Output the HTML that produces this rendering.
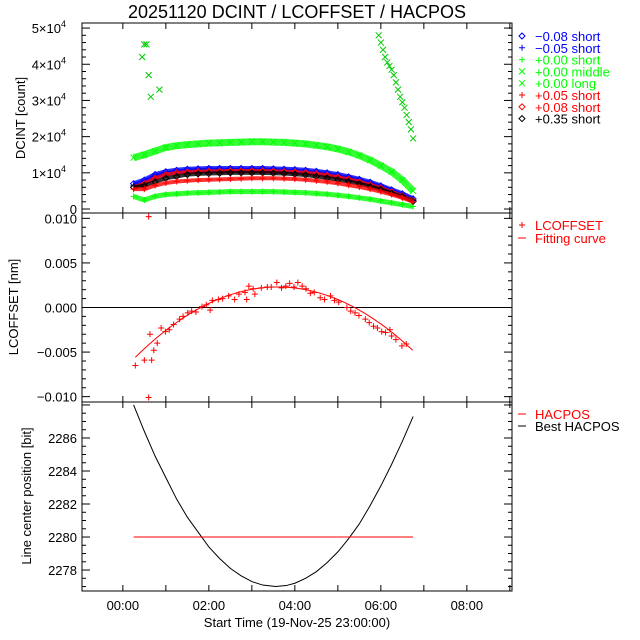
<!DOCTYPE html>
<html><head><meta charset="utf-8"><style>
body{margin:0;background:#fff}
svg{display:block;font-family:"Liberation Sans",sans-serif}
</style></head><body>
<svg id="c" width="640" height="640" viewBox="0 0 640 640"></svg>
<script>
// ---- data ----
const hourTicks=[0,2,4,6,8];
const hourTickLabels=["00:00","02:00","04:00","06:00","08:00"];
const bandTimes=[0.25,0.5,0.75,1.0,1.25,1.5,1.75,2.0,2.25,2.5,2.75,3.0,3.25,3.5,3.75,4.0,4.25,4.5,4.75,5.0,5.25,5.5,5.75,6.0,6.25,6.5,6.75];
const greenShort=[0.35,0.25,0.35,0.4,0.42,0.44,0.45,0.46,0.47,0.48,0.48,0.48,0.48,0.48,0.47,0.46,0.45,0.43,0.41,0.38,0.35,0.31,0.27,0.22,0.17,0.12,0.07];
const greenMiddle=[1.42,1.5,1.6,1.7,1.75,1.78,1.8,1.82,1.83,1.84,1.85,1.86,1.86,1.85,1.84,1.82,1.8,1.76,1.72,1.66,1.58,1.48,1.35,1.2,1.03,0.8,0.5];
const blueDiamond=[0.7,0.8,0.95,1.03,1.07,1.1,1.11,1.12,1.12,1.12,1.12,1.12,1.12,1.11,1.1,1.09,1.07,1.04,1.0,0.95,0.89,0.82,0.74,0.64,0.53,0.42,0.28];
const bluePlus=[0.65,0.75,0.9,0.98,1.02,1.05,1.06,1.07,1.07,1.07,1.07,1.07,1.07,1.06,1.05,1.04,1.02,0.99,0.95,0.9,0.85,0.78,0.7,0.6,0.5,0.38,0.25];
const redDiamond=[0.6,0.7,0.85,0.95,1.0,1.02,1.03,1.04,1.04,1.05,1.05,1.05,1.05,1.04,1.03,1.02,1.0,0.97,0.93,0.88,0.82,0.75,0.67,0.58,0.47,0.36,0.23];
const blackDiamond=[0.6,0.65,0.75,0.85,0.9,0.95,0.97,0.98,0.99,1.0,1.0,1.0,1.0,0.99,0.98,0.96,0.94,0.9,0.86,0.81,0.76,0.7,0.62,0.54,0.44,0.34,0.21];
const redPlus=[0.55,0.55,0.65,0.72,0.76,0.78,0.8,0.81,0.82,0.83,0.84,0.85,0.85,0.85,0.84,0.83,0.81,0.78,0.75,0.71,0.66,0.61,0.55,0.48,0.4,0.31,0.2];
const longTimes=[0.45,0.5,0.55,0.6,0.65,0.85,5.95,6.0,6.05,6.1,6.15,6.2,6.25,6.3,6.35,6.4,6.45,6.5,6.55,6.6,6.65,6.7,6.75];
const greenLong=[4.2,4.55,4.55,3.7,3.1,3.3,4.8,4.6,4.4,4.2,4.05,3.95,3.85,3.7,3.5,3.3,3.1,2.95,2.8,2.6,2.4,2.2,1.95];
const lcTimes=[0.29,0.5,0.63,0.67,0.72,0.6,0.6,0.8,0.89,0.99,1.08,1.18,1.32,1.4,1.51,1.6,1.7,1.84,1.94,2.03,2.08,2.22,2.32,2.46,2.6,2.7,2.84,2.88,2.93,3.03,3.07,3.22,3.36,3.45,3.58,3.69,3.79,3.88,3.98,4.07,4.17,4.26,4.36,4.45,4.59,4.69,4.83,4.92,5.02,5.21,5.3,5.4,5.49,5.64,5.73,5.83,5.92,6.02,6.11,6.21,6.25,6.35,6.49,6.59];
const lcValues=[-6.5,-5.9,-3.0,-5.9,-4.8,-10.1,10.2,-4.0,-2.3,-2.7,-2.5,-1.9,-1.3,-1.0,-0.6,-0.4,-0.5,0.1,0.3,-0.3,0.8,0.9,1.0,1.3,0.9,1.5,1.7,0.9,2.4,2.1,1.5,2.2,2.3,2.3,2.8,2.2,2.4,2.7,2.3,2.8,2.4,2.1,1.6,1.7,1.1,0.9,1.3,0.8,0.6,0.0,-0.4,-0.6,-0.9,-1.3,-1.7,-2.1,-2.3,-2.7,-2.8,-2.5,-3.2,-3.6,-4.3,-4.1];
const fitCoef=[2.3,3.6,0.72]; // peak (1e-3 nm), peak hour, curvature
const hacTimes=[0.25,0.5,0.75,1,1.25,1.5,1.75,2,2.25,2.5,2.75,3,3.25,3.55,3.8,4,4.25,4.5,4.75,5,5.25,5.5,5.75,6,6.25,6.5,6.75];
const bestHacpos=[2288.0,2286.4,2284.9,2283.6,2282.3,2281.2,2280.3,2279.4,2278.7,2278.1,2277.65,2277.3,2277.09,2277.0,2277.06,2277.2,2277.5,2277.9,2278.45,2279.1,2279.9,2280.8,2281.9,2283.1,2284.4,2285.8,2287.3];
const hacposLevel=2280;

const S=document.getElementById('c');const NS='http://www.w3.org/2000/svg';
function mk(t,a,p){const e=document.createElementNS(NS,t);for(const k in a)e.setAttribute(k,a[k]);(p||S).appendChild(e);return e;}
const L=82,R=512;
const xs=t=>L+(t+0.95)*(R-L)/10;
const P1={t:23,b:213,y0:-0.11,y1:5.14};
const P2={t:213,b:402,y0:-10.6,y1:10.6};
const P3={t:402,b:591,y0:2276.73,y1:2288.18};
const ys=(P,v)=>P.b-(v-P.y0)/(P.y1-P.y0)*(P.b-P.t);

[P1,P2,P3].forEach((P,i)=>{
 const r=mk('rect',{x:L,y:P.t,width:R-L,height:P.b-P.t,fill:'none',stroke:'#000','stroke-width':1});
 
 
 for(let h=0;h<=9;h++){const x=xs(h);
  mk('line',{x1:x,x2:x,y1:P.b,y2:P.b-6,stroke:'#000'});mk('line',{x1:x,x2:x,y1:P.t,y2:P.t+6,stroke:'#000'});}
});
function yticks(P,maj,minor){
 for(let v=Math.ceil(P.y0/minor)*minor;v<=P.y1+1e-9;v+=minor){const y=ys(P,v);
  const isMaj=Math.abs(v/maj-Math.round(v/maj))<1e-6;const len=isMaj?8:4;
  mk('line',{x1:L,x2:L+len,y1:y,y2:y,stroke:'#000'});mk('line',{x1:R,x2:R-len,y1:y,y2:y,stroke:'#000'});}
}
yticks(P1,1,0.2);yticks(P2,5,1);yticks(P3,2,0.5);
function txt(x,y,s,o){const e=mk('text',Object.assign({x:x,y:y,'font-size':13,fill:'#000'},o||{}));e.textContent=s;return e;}
[0,1,2,3,4,5].forEach(k=>{const y=ys(P1,k)+5;
 let e;
 if(k===0){e=txt(77,y,'0',{'text-anchor':'end'});}
 else{e=txt(61,y,k+'×10',{'text-anchor':'end'});txt(61,y-6,'4',{'font-size':9});}
 });
[10,5,0,-5,-10].forEach(k=>{const e=txt(77,ys(P2,k)+5,(k<0?'−':'')+(Math.abs(k)/1000).toFixed(3),{'text-anchor':'end'});
 });
[2278,2280,2282,2284,2286].forEach(k=>{const e=txt(77,ys(P3,k)+5,String(k),{'text-anchor':'end'});
 });
hourTicks.forEach((h,i)=>{const e=txt(xs(h),610,hourTickLabels[i],{'text-anchor':'middle'});
 });
let e;
e=txt(297,627,'Start Time (19-Nov-25 23:00:00)',{'text-anchor':'middle'});
e=txt(297,18,'20251120 DCINT / LCOFFSET / HACPOS',{'text-anchor':'middle','font-size':18});
e=txt(0,0,'DCINT [count]',{'text-anchor':'middle',transform:'translate(25,118) rotate(-90)'});
e=txt(0,0,'LCOFFSET [nm]',{'text-anchor':'middle',transform:'translate(18,307) rotate(-90)'});
e=txt(0,0,'Line center position [bit]',{'text-anchor':'middle',transform:'translate(31,496) rotate(-90)'});

function marker(g,type,x,y,c){
 if(type==='d')mk('path',{d:`M${x} ${y-3}L${x+3} ${y}L${x} ${y+3}L${x-3} ${y}Z`,fill:'none',stroke:c},g);
 else if(type==='p')mk('path',{d:`M${x-3} ${y}H${x+3}M${x} ${y-3}V${y+3}`,stroke:c},g);
 else mk('path',{d:`M${x-3} ${y-3}L${x+3} ${y+3}M${x-3} ${y+3}L${x+3} ${y-3}`,stroke:c},g);
}
function series(name,times,vals,P,type,c,band){
 const g=mk('g',{});
 
 
 if(band)mk('polyline',{points:times.map((t,i)=>xs(t)+','+ys(P,vals[i])).join(' '),fill:'none',stroke:c,'stroke-width':band,'stroke-opacity':0.8},g);
 times.forEach((t,i)=>marker(g,type,xs(t),ys(P,vals[i]),c));
}
series('series-green-short',bandTimes,greenShort,P1,'p','#00ff00',5);
series('series-green-middle',bandTimes,greenMiddle,P1,'x','#00ff00',7);
series('series-blue-diamond',bandTimes,blueDiamond,P1,'d','#0000ff',5);
series('series-blue-plus',bandTimes,bluePlus,P1,'p','#0000ff',5);
series('series-red-diamond',bandTimes,redDiamond,P1,'d','#ff0000',4);
series('series-black-diamond',bandTimes,blackDiamond,P1,'d','#000000',4);
series('series-red-plus',bandTimes,redPlus,P1,'p','#ff0000',4);
series('series-green-long',longTimes,greenLong,P1,'x','#00cc00',0);

e=mk('line',{x1:L,x2:R,y1:ys(P2,0),y2:ys(P2,0),stroke:'#000'});
series('lcoffset-points',lcTimes,lcValues,P2,'p','#ff0000',0);
const fitPts=[];for(let t=0.29;t<=6.751;t+=0.05){fitPts.push(xs(t)+','+ys(P2,fitCoef[0]-fitCoef[2]*(t-fitCoef[1])**2));}
e=mk('polyline',{points:fitPts.join(' '),fill:'none',stroke:'#ff0000'});

e=mk('polyline',{points:hacTimes.map((t,i)=>xs(t)+','+ys(P3,bestHacpos[i])).join(' '),fill:'none',stroke:'#000'});
e=mk('line',{x1:xs(hacTimes[0]),x2:xs(hacTimes[hacTimes.length-1]),y1:ys(P3,hacposLevel),y2:ys(P3,hacposLevel),stroke:'#ff0000'});

const leg=[['d','#0000ff','−0.08 short'],['p','#0000ff','−0.05 short'],['p','#00ff00','+0.00 short'],['x','#00ff00','+0.00 middle'],['x','#00ff00','+0.00 long'],['p','#ff0000','+0.05 short'],['d','#ff0000','+0.08 short'],['d','#000000','+0.35 short']];
leg.forEach((l,i)=>{const y=36+i*11.8;const g=mk('g',{});
 
 marker(g,l[0],522,y,l[1]);const t=mk('text',{x:535,y:y+5,'font-size':13,fill:l[1]},g);t.textContent=l[2];});
function legLine(y,c,s,sym){const g=mk('g',{});
 
 if(sym)marker(g,'p',522,y,c);else mk('line',{x1:518,x2:526,y1:y,y2:y,stroke:c},g);
 const t=mk('text',{x:535,y:y+5,'font-size':13,fill:c},g);t.textContent=s;}
legLine(225,'#ff0000','LCOFFSET',true);legLine(238,'#ff0000','Fitting curve');
legLine(414,'#ff0000','HACPOS');legLine(426,'#000','Best HACPOS');
</script>
</body></html>
